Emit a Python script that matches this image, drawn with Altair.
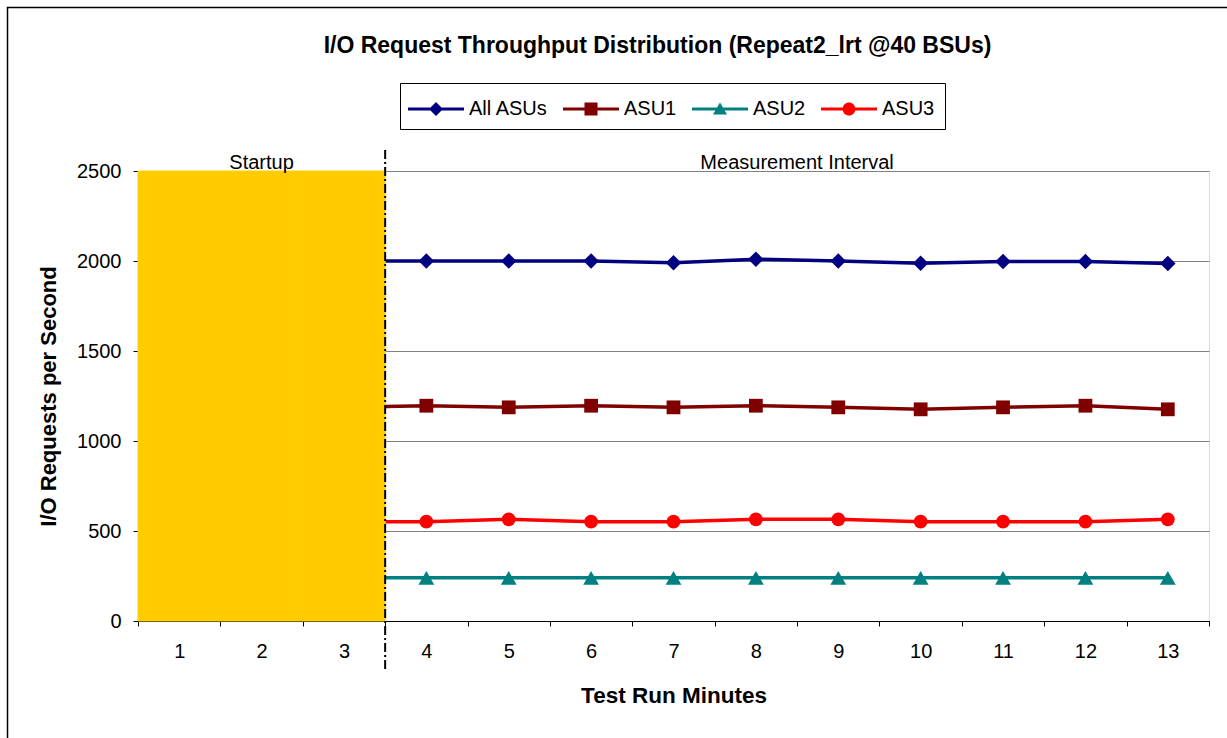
import altair as alt
import pandas as pd

# ---- data ----
minutes = list(range(1, 14))
series = ["All ASUs", "ASU1", "ASU2", "ASU3"]
colors = ["#000080", "#800000", "#008080", "#FF0000"]
run_minutes = [3, 4, 5, 6, 7, 8, 9, 10, 11, 12, 13]
all_asus = [2000, 2000, 2000, 2000, 1990, 2010, 2000, 1988, 1997, 1997, 1986]
asu1 = [1187, 1196, 1187, 1196, 1187, 1196, 1187, 1176, 1187, 1196, 1176]
asu2 = [240, 240, 240, 240, 240, 240, 240, 240, 240, 240, 240]
asu3 = [552, 552, 565, 552, 552, 565, 565, 552, 552, 552, 565]
startup_minutes = [1, 2, 3]
startup_top = [2500, 2500, 2500]
measurement_start = [4]
y_ticks = [0, 500, 1000, 1500, 2000, 2500]
title_text = "I/O Request Throughput Distribution (Repeat2_lrt @40 BSUs)"

FONT = "Liberation Sans"

rows = []
for name, vals in zip(series, [all_asus, asu1, asu2, asu3]):
    for m, v in zip(run_minutes, vals):
        rows.append({"minute": m, "series": name, "value": v})
df = pd.DataFrame(rows)

startup_df = pd.DataFrame({"minute": startup_minutes, "top": startup_top})

x_scale = alt.Scale(domain=minutes, paddingInner=0, paddingOuter=0)
x_axis = alt.Axis(
    title="Test Run Minutes", labelAngle=0, tickBand="extent", grid=False,
    domainColor="black", tickColor="black", tickSize=5,
    labelFontSize=20, labelFont=FONT, labelColor="black", labelPadding=15,
    titleFontSize=22.5, titleFont=FONT, titleFontWeight="bold", titleColor="black",
    titleX=535.5, titleY=74, titleBaseline="middle",
)
y_scale = alt.Scale(domain=[0, 2500], nice=False)
y_axis = alt.Axis(
    title="I/O Requests per Second", values=y_ticks, format="d", grid=True,
    gridColor="#808080", gridWidth=1, domainColor="black", tickColor="black",
    tickSize=5, labelFontSize=20, labelFont=FONT, labelColor="black", labelPadding=12,
    titleFontSize=22, titleFont=FONT, titleFontWeight="bold", titleColor="black",
    titleX=-90, titleY=225, titleBaseline="middle",
)


def xe(field="minute:O", **kw):
    return alt.X(field, scale=x_scale, axis=x_axis, **kw)


def ye(field):
    return alt.Y(field, scale=y_scale, axis=y_axis)


color_scale = alt.Scale(domain=series, range=colors)

# outer frame
frame = alt.Chart(pd.DataFrame({"k": [0]})).mark_rect(
    fillOpacity=0, stroke="black", strokeWidth=1.5
).encode(x=alt.value(-130.5), x2=alt.value(1100), y=alt.value(-163.5), y2=alt.value(580))

shapes = ["diamond", "square", "triangle-up", "circle"]
sizes = [240, 190, 250, 190]
line_layers = []
point_layers = []
for name, col, shp, sz in zip(series, colors, shapes, sizes):
    base = alt.Chart(df).transform_filter(alt.datum.series == name)
    line_layers.append(
        base.mark_line(strokeWidth=3.5, color=col).encode(x=xe(), y=ye("value:Q"))
    )
    point_layers.append(
        base.mark_point(filled=True, shape=shp, size=sz, color=col, opacity=1, strokeWidth=0)
        .encode(x=xe(), y=ye("value:Q"))
    )

startup = alt.Chart(startup_df).mark_bar(
    color="#FFCC00", stroke="#FFCC00", strokeWidth=1, opacity=1
).encode(x=xe(), y=ye("top:Q"))

rule = alt.Chart(pd.DataFrame({"minute": measurement_start})).mark_rule(
    color="black", strokeWidth=2, strokeDash=[9, 3, 2, 3]
).encode(x=xe(bandPosition=0), y=alt.value(-21), y2=alt.value(501))

txt_start = alt.Chart(pd.DataFrame({"minute": [2], "label": ["Startup"]})).mark_text(
    fontSize=20, font=FONT, color="black", baseline="alphabetic", align="center"
).encode(x=xe(), y=alt.value(-2), text="label:N")

txt_meas = alt.Chart(pd.DataFrame({"minute": [9], "label": ["Measurement Interval"]})).mark_text(
    fontSize=20, font=FONT, color="black", baseline="alphabetic", align="center"
).encode(x=xe(bandPosition=0), y=alt.value(-2), text="label:N")

# legend layer: marks pushed outside the clipped view, only its legend shows
u = 16.0  # px per path unit for symbolSize 1024


def p(v):
    return f"{v / u:.4f}"


line_path = f"M{p(-28)},{p(-1.6)}L{p(28)},{p(-1.6)}L{p(28)},{p(1.6)}L{p(-28)},{p(1.6)}Z"
diamond_path = f"M0,{p(-7)}L{p(7)},0L0,{p(7)}L{p(-7)},0Z"
square_path = f"M{p(-6.5)},{p(-6.5)}L{p(6.5)},{p(-6.5)}L{p(6.5)},{p(6.5)}L{p(-6.5)},{p(6.5)}Z"
tri_path = f"M0,{p(-6.5)}L{p(7)},{p(5.5)}L{p(-7)},{p(5.5)}Z"
circ_path = (f"M{p(-6.3)},0C{p(-6.3)},{p(-8.7)} {p(6.3)},{p(-8.7)} {p(6.3)},0"
             f"C{p(6.3)},{p(8.7)} {p(-6.3)},{p(8.7)} {p(-6.3)},0Z")
legend_paths = [line_path + m for m in [diamond_path, square_path, tri_path, circ_path]]

leg = alt.Legend(
    orient="none", legendX=262, legendY=-88, direction="horizontal", columns=4,
    title=None, symbolSize=1024, symbolStrokeWidth=0, symbolOffset=10,
    labelOffset=17, columnPadding=15, padding=10, strokeColor="black",
    fillColor="white", labelFontSize=20, labelFont=FONT, labelColor="black",
    labelLimit=400,
)
legend_layer = alt.Chart(df).transform_calculate(
    hidden="datum.value + 100000"
).mark_point(filled=True, opacity=1, clip=True).encode(
    x=xe(), y=ye("hidden:Q"),
    color=alt.Color("series:N", scale=color_scale, legend=leg),
    shape=alt.Shape("series:N", scale=alt.Scale(domain=series, range=legend_paths), legend=leg),
)

chart = alt.layer(
    frame, *line_layers, *point_layers, startup, rule, txt_start, txt_meas, legend_layer
).properties(
    width=1071, height=450,
    title=alt.TitleParams(
        title_text, fontSize=23, font=FONT, fontWeight="bold", color="black",
        anchor="middle", frame="group", dx=-16, offset=0, dy=51,
    ),
    padding={"left": 138, "top": 171, "right": 18, "bottom": 117},
    autosize=alt.AutoSizeParams(type="none"),
).configure_view(stroke="#808080", strokeWidth=1).configure(background="white")

chart.save("out.html", embed_options={"renderer": "svg", "actions": False})
